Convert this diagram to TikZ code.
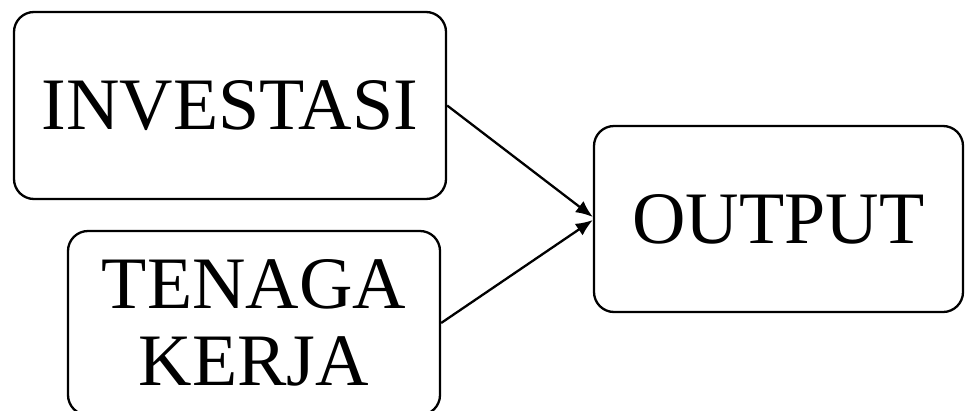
\documentclass[tikz,border=0pt]{standalone}
\usepackage{fontspec}
\setmainfont{Liberation Serif}
\usetikzlibrary{arrows.meta}
\begin{document}
\begin{tikzpicture}[x=1pt,y=1pt,
  boxnode/.style={draw=black, line width=2.3pt, rounded corners=20pt, inner sep=0pt,
    align=center, font=\fontsize{74}{77}\selectfont},
  conn/.style={line width=2.3pt, -{Latex[length=17pt,width=14pt]}}]
\useasboundingbox (0,0) rectangle (965,-410);
\clip (0,0) rectangle (965,-410);
\node[boxnode, minimum width=432pt, minimum height=187pt] (inv) at (230,-105.5) {INVESTASI};
\node[boxnode, minimum width=372pt, minimum height=184pt] (ten) at (254,-323) {TENAGA\\KERJA};
\node[boxnode, minimum width=369pt, minimum height=186pt] (out) at (778.5,-219) {OUTPUT};
\draw[conn] (inv.east) -- ([yshift=2pt]out.west);
\draw[conn] (ten.east) -- ([yshift=-1pt]out.west);
\end{tikzpicture}
\end{document}
